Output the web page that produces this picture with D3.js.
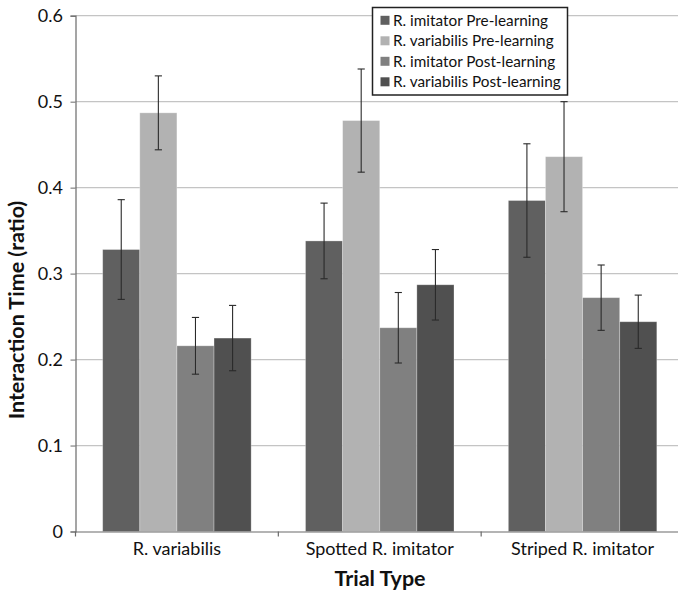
<!DOCTYPE html>
<html>
<head>
<meta charset="utf-8">
<script src="https://cdn.jsdelivr.net/npm/d3@7"></script>
<style>
body { margin: 0; background: #fff; }
svg { display: block; font-family: Lato, "Open Sans", sans-serif; }
</style>
</head>
<body>
<svg id="chart" width="678" height="593"></svg>
<script>
const categories = ["R. variabilis", "Spotted R. imitator", "Striped R. imitator"];
const seriesNames = ["R. imitator Pre-learning", "R. variabilis Pre-learning", "R. imitator Post-learning", "R. variabilis Post-learning"];
const seriesColors = ["#606060", "#b2b2b2", "#808080", "#505050"];
// values per series, one per category
const imitatorPre = [0.328, 0.338, 0.385];
const variabilisPre = [0.487, 0.478, 0.436];
const imitatorPost = [0.216, 0.237, 0.272];
const variabilisPost = [0.225, 0.287, 0.244];
// error bar half-widths
const imitatorPreErr = [0.058, 0.044, 0.066];
const variabilisPreErr = [0.043, 0.060, 0.064];
const imitatorPostErr = [0.033, 0.041, 0.038];
const variabilisPostErr = [0.038, 0.041, 0.031];
const yTicks = [0, 0.1, 0.2, 0.3, 0.4, 0.5, 0.6];

const seriesValues = [imitatorPre, variabilisPre, imitatorPost, variabilisPost];
const seriesErrors = [imitatorPreErr, variabilisPreErr, imitatorPostErr, variabilisPostErr];

const svg = d3.select("#chart");
const mLeft = 75.5, mRight = 684, mTop = 15.7, mBottom = 531.5;

const y = d3.scaleLinear().domain([0, 0.6]).range([mBottom, mTop]);
const x0 = d3.scaleBand().domain(categories).range([mLeft, mRight]).paddingInner(0.268).paddingOuter(0.134);
const x1 = d3.scaleBand().domain(seriesNames).range([0, x0.bandwidth()]);

// gridlines
svg.append("g").selectAll("line").data(yTicks.filter(d => d > 0)).join("line")
  .attr("x1", mLeft).attr("x2", 678)
  .attr("y1", d => y(d)).attr("y2", d => y(d))
  .attr("stroke", "#c4c4c4").attr("stroke-width", 1.3);

// bars
const data = [];
categories.forEach((c, ci) => seriesNames.forEach((s, si) => {
  data.push({c, s, si, v: seriesValues[si][ci], e: seriesErrors[si][ci]});
}));

svg.append("g").selectAll("rect").data(data).join("rect")
  .attr("x", d => x0(d.c) + x1(d.s))
  .attr("y", d => y(d.v))
  .attr("width", x1.bandwidth())
  .attr("height", d => y(0) - y(d.v))
  .attr("fill", d => seriesColors[d.si])
  .attr("stroke", "rgba(255,255,255,0.35)").attr("stroke-width", 0.8);

// error bars
const eg = svg.append("g").attr("stroke", "#2a2a2a").attr("stroke-width", 1.1);
data.forEach(d => {
  const cx = x0(d.c) + x1(d.s) + x1.bandwidth() / 2;
  eg.append("line").attr("x1", cx).attr("x2", cx).attr("y1", y(d.v + d.e)).attr("y2", y(d.v - d.e));
  eg.append("line").attr("x1", cx - 3.6).attr("x2", cx + 3.6).attr("y1", y(d.v + d.e)).attr("y2", y(d.v + d.e));
  eg.append("line").attr("x1", cx - 3.6).attr("x2", cx + 3.6).attr("y1", y(d.v - d.e)).attr("y2", y(d.v - d.e));
});

// y axis
const yAxis = svg.append("g").attr("transform", `translate(${mLeft},0)`)
  .call(d3.axisLeft(y).tickValues(yTicks).tickFormat(d => d === 0 ? "0" : d3.format(".1f")(d)).tickSize(5).tickPadding(7.5));
yAxis.select(".domain").attr("stroke", "#6a6a6a").attr("stroke-width", 1.2);
yAxis.selectAll(".tick line").attr("stroke", "#6a6a6a");
yAxis.selectAll(".tick text").attr("font-size", 18).attr("fill", "#111").attr("font-family", "Lato, sans-serif");

// x axis
const xAxis = svg.append("g").attr("transform", `translate(0,${mBottom})`)
  .call(d3.axisBottom(x0).tickSize(0).tickPadding(11));
xAxis.select(".domain").attr("stroke", "#6a6a6a").attr("stroke-width", 1.2);
xAxis.selectAll(".tick text").attr("font-size", 18).attr("fill", "#111").attr("font-family", "Lato, sans-serif");
// category separator ticks
const sepTicks = [mLeft, mLeft + x0.step(), mLeft + 2 * x0.step()];
svg.append("g").selectAll("line").data(sepTicks).join("line")
  .attr("x1", d => d).attr("x2", d => d).attr("y1", mBottom).attr("y2", mBottom + 5)
  .attr("stroke", "#6a6a6a").attr("stroke-width", 1.2);

// axis titles
svg.append("text").attr("x", 380).attr("y", 586).attr("text-anchor", "middle")
  .attr("font-size", 21.5).attr("font-weight", "bold").attr("fill", "#111").text("Trial Type");
svg.append("text").attr("transform", "translate(24,310) rotate(-90)").attr("text-anchor", "middle")
  .attr("font-size", 21.5).attr("font-weight", "bold").attr("fill", "#111").text("Interaction Time (ratio)");

// legend
const lg = svg.append("g");
lg.append("rect").attr("x", 372.5).attr("y", 7.5).attr("width", 195).attr("height", 87.5)
  .attr("fill", "#fff").attr("stroke", "#222").attr("stroke-width", 1.5);
seriesNames.forEach((s, i) => {
  const cy = 20.3 + i * 20.5;
  lg.append("rect").attr("x", 380.5).attr("y", cy - 4.5).attr("width", 9).attr("height", 9).attr("fill", seriesColors[i]);
  lg.append("text").attr("x", 393).attr("y", cy + 5.3).attr("font-size", 15.3).attr("fill", "#111").text(s);
});
</script>
</body>
</html>
